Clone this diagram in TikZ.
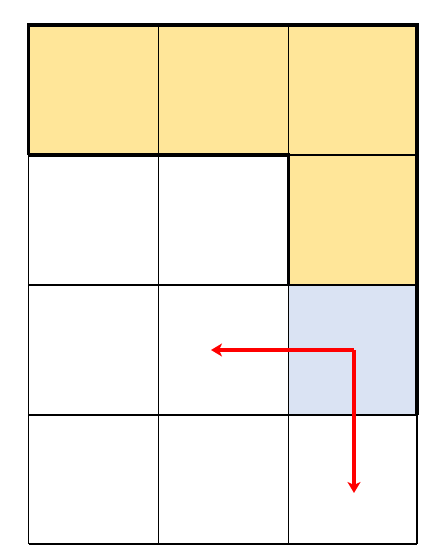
\documentclass[tikz,border=0pt]{standalone}
\usepackage{tikz}
\usetikzlibrary{arrows.meta}
\definecolor{cellyellow}{HTML}{FFE699}
\definecolor{cellblue}{HTML}{DAE3F3}

\begin{document}
\begin{tikzpicture}[x=1pt,y=-1pt]
    \useasboundingbox (0,0) rectangle (433,557);

    % filled cells
    \fill[cellyellow] (28.5,25) rectangle (417,155);
    \fill[cellyellow] (288.5,155) rectangle (417,285);
    \fill[cellblue] (288.5,285) rectangle (417,415);

    % grid
    \foreach \x in {28.5,158.5,288.5,417}
        \draw[line width=1.1pt] (\x,25) -- (\x,544);
    \foreach \y in {25,155,285,415,544}
        \draw[line width=1.1pt] (28.5,\y) -- (417,\y);

    % thick outline
    \draw[line width=3.4pt] (28.5,155) -- (28.5,25) -- (417,25) -- (417,415);
    \draw[line width=3.4pt] (28.5,155) -- (288.5,155) -- (288.5,285);

    % moves
    \coordinate (start) at (354,350);
    \coordinate (left) at (211,350);
    \coordinate (down) at (354,493);
    \draw[red,line width=3.2pt,-{Stealth[length=11pt,width=13pt,inset=3pt]}] (start) -- (left);
    \draw[red,line width=3.2pt,-{Stealth[length=11pt,width=13pt,inset=3pt]}] (start) -- (down);
\end{tikzpicture}
\end{document}
